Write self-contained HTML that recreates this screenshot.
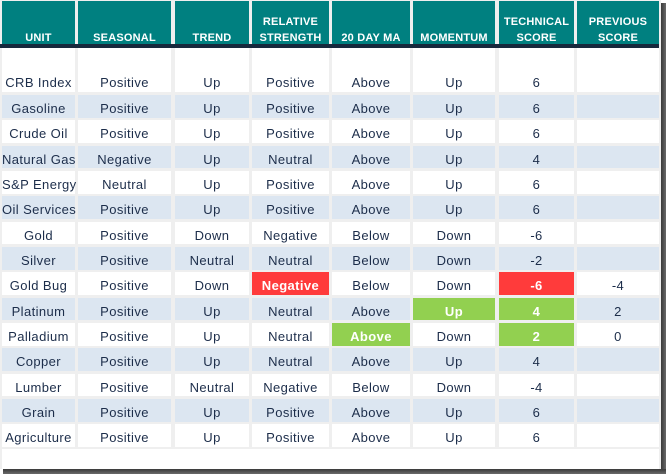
<!DOCTYPE html>
<html><head><meta charset="utf-8"><style>
*{margin:0;padding:0;box-sizing:border-box}
html,body{width:666px;height:474px;overflow:hidden;background:#fff;position:relative}
.bgw{position:absolute;left:0;top:0;width:661px;height:469px;background:#efefef}
.row{position:absolute;left:0;width:661px;height:22.67px}
.row div{position:absolute;top:0;bottom:0;text-align:center;white-space:nowrap;font-family:"Liberation Sans",sans-serif;font-size:13px;color:#1c2d4a;letter-spacing:0.4px;line-height:22.67px;padding-top:3px;background:#fff}
.row.b div{background:#dce6f1}
.row.first div{padding-top:24px}
.hd{position:absolute;left:0;top:1px;width:661px;height:43.3px}
.hd div{position:absolute;top:0;bottom:0;background:#008080;color:#fff;font-weight:bold;font-family:"Liberation Sans",sans-serif;font-size:11px;line-height:16px;letter-spacing:0.2px;text-align:center;white-space:nowrap;display:flex;flex-direction:column;justify-content:flex-end}
.hd span{position:relative;top:1.5px}
.k0{left:2px;width:73px}.k1{left:78px;width:93px}.k2{left:175px;width:74px}.k3{left:252px;width:77px}
.k4{left:332px;width:78px}.k5{left:413px;width:82px}.k6{left:499px;width:75px}.k7{left:577px;width:82px}
.row div.r{background:#ff3b3b;color:#fff;font-weight:bold}
.row div.g{background:#92d050;color:#fff;font-weight:bold}
</style></head><body>
<div class="bgw"></div>
<div style="position:absolute;left:2px;top:449px;width:657px;height:20px;background:#fff"></div>
<div style="position:absolute;left:661px;top:3px;width:5px;height:471px;background:linear-gradient(to right,#3a3a3a,#6a6a6a)"></div>
<div style="position:absolute;left:3px;top:469px;width:663px;height:5px;background:linear-gradient(to bottom,#3a3a3a,#6a6a6a)"></div>

<div class="hd">
<div class="k0"><span>UNIT</span></div>
<div class="k1"><span>SEASONAL</span></div>
<div class="k2"><span>TREND</span></div>
<div class="k3"><span>RELATIVE</span><span>STRENGTH</span></div>
<div class="k4"><span>20 DAY MA</span></div>
<div class="k5"><span>MOMENTUM</span></div>
<div class="k6"><span>TECHNICAL</span><span>SCORE</span></div>
<div class="k7"><span>PREVIOUS</span><span>SCORE</span></div>
</div>
<div style="position:absolute;left:0;top:44.3px;width:659px;height:3.4px;background:#17283c"></div>

<div class="row first" style="top:48px;height:43.7px"><div class="k0">CRB Index</div><div class="k1">Positive</div><div class="k2">Up</div><div class="k3">Positive</div><div class="k4">Above</div><div class="k5">Up</div><div class="k6">6</div><div class="k7"></div></div>
<div class="row b" style="top:95px"><div class="k0">Gasoline</div><div class="k1">Positive</div><div class="k2">Up</div><div class="k3">Positive</div><div class="k4">Above</div><div class="k5">Up</div><div class="k6">6</div><div class="k7"></div></div>
<div class="row" style="top:120.33px"><div class="k0">Crude Oil</div><div class="k1">Positive</div><div class="k2">Up</div><div class="k3">Positive</div><div class="k4">Above</div><div class="k5">Up</div><div class="k6">6</div><div class="k7"></div></div>
<div class="row b" style="top:145.67px"><div class="k0">Natural Gas</div><div class="k1">Negative</div><div class="k2">Up</div><div class="k3">Neutral</div><div class="k4">Above</div><div class="k5">Up</div><div class="k6">4</div><div class="k7"></div></div>
<div class="row" style="top:171px"><div class="k0">S&amp;P Energy</div><div class="k1">Neutral</div><div class="k2">Up</div><div class="k3">Positive</div><div class="k4">Above</div><div class="k5">Up</div><div class="k6">6</div><div class="k7"></div></div>
<div class="row b" style="top:196.33px"><div class="k0">Oil Services</div><div class="k1">Positive</div><div class="k2">Up</div><div class="k3">Positive</div><div class="k4">Above</div><div class="k5">Up</div><div class="k6">6</div><div class="k7"></div></div>
<div class="row" style="top:221.67px"><div class="k0">Gold</div><div class="k1">Positive</div><div class="k2">Down</div><div class="k3">Negative</div><div class="k4">Below</div><div class="k5">Down</div><div class="k6">-6</div><div class="k7"></div></div>
<div class="row b" style="top:247px"><div class="k0">Silver</div><div class="k1">Positive</div><div class="k2">Neutral</div><div class="k3">Neutral</div><div class="k4">Below</div><div class="k5">Down</div><div class="k6">-2</div><div class="k7"></div></div>
<div class="row" style="top:272.33px"><div class="k0">Gold Bug</div><div class="k1">Positive</div><div class="k2">Down</div><div class="k3 r">Negative</div><div class="k4">Below</div><div class="k5">Down</div><div class="k6 r">-6</div><div class="k7">-4</div></div>
<div class="row b" style="top:297.67px"><div class="k0">Platinum</div><div class="k1">Positive</div><div class="k2">Up</div><div class="k3">Neutral</div><div class="k4">Above</div><div class="k5 g">Up</div><div class="k6 g">4</div><div class="k7">2</div></div>
<div class="row" style="top:323px"><div class="k0">Palladium</div><div class="k1">Positive</div><div class="k2">Up</div><div class="k3">Neutral</div><div class="k4 g">Above</div><div class="k5">Down</div><div class="k6 g">2</div><div class="k7">0</div></div>
<div class="row b" style="top:348.33px"><div class="k0">Copper</div><div class="k1">Positive</div><div class="k2">Up</div><div class="k3">Neutral</div><div class="k4">Above</div><div class="k5">Up</div><div class="k6">4</div><div class="k7"></div></div>
<div class="row" style="top:373.67px"><div class="k0">Lumber</div><div class="k1">Positive</div><div class="k2">Neutral</div><div class="k3">Negative</div><div class="k4">Below</div><div class="k5">Down</div><div class="k6">-4</div><div class="k7"></div></div>
<div class="row b" style="top:399px"><div class="k0">Grain</div><div class="k1">Positive</div><div class="k2">Up</div><div class="k3">Positive</div><div class="k4">Above</div><div class="k5">Up</div><div class="k6">6</div><div class="k7"></div></div>
<div class="row" style="top:424.33px"><div class="k0">Agriculture</div><div class="k1">Positive</div><div class="k2">Up</div><div class="k3">Positive</div><div class="k4">Above</div><div class="k5">Up</div><div class="k6">6</div><div class="k7"></div></div>
</body></html>
